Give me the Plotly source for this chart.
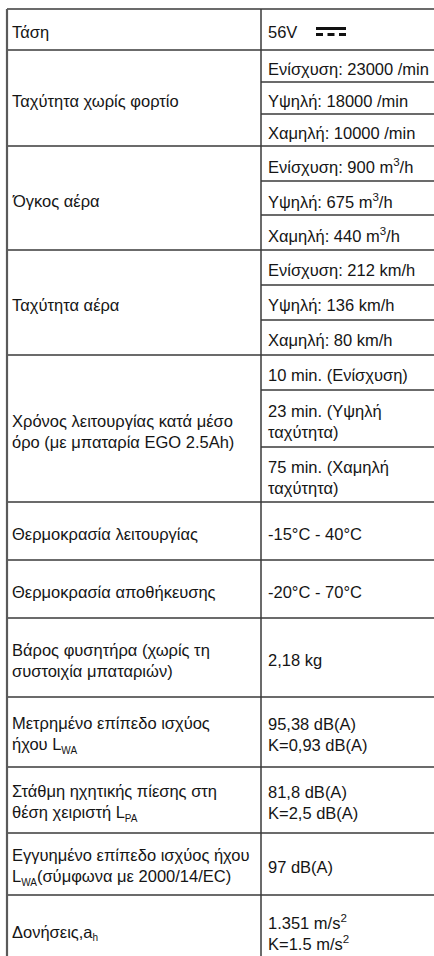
import plotly.graph_objects as go

# ---------------- data ----------------
SUB = "<sub><span style='font-size:10px'>{}</span></sub>"
parameters = [
    "Τάση",
    "Ταχύτητα χωρίς φορτίο",
    "Όγκος αέρα",
    "Ταχύτητα αέρα",
    "Χρόνος λειτουργίας κατά μέσο<br>όρο (με μπαταρία EGO 2.5Ah)",
    "Θερμοκρασία λειτουργίας",
    "Θερμοκρασία αποθήκευσης",
    "Βάρος φυσητήρα (χωρίς τη<br>συστοιχία μπαταριών)",
    "Μετρημένο επίπεδο ισχύος<br>ήχου L" + SUB.format("WA"),
    "Στάθμη ηχητικής πίεσης στη<br>θέση χειριστή L" + SUB.format("PA"),
    "Εγγυημένο επίπεδο ισχύος ήχου<br>L" + SUB.format("WA") + "(σύμφωνα με 2000/14/EC)",
    "Δονήσεις,a" + SUB.format("h"),
]
voltage = ["56V"]
no_load_speed = ["Ενίσχυση: 23000 /min", "Υψηλή: 18000 /min", "Χαμηλή: 10000 /min"]
air_volume = ["Ενίσχυση: 900 m<sup>3</sup>/h", "Υψηλή: 675 m<sup>3</sup>/h", "Χαμηλή: 440 m<sup>3</sup>/h"]
air_speed = ["Ενίσχυση: 212 km/h", "Υψηλή: 136 km/h", "Χαμηλή: 80 km/h"]
run_time = ["10 min. (Ενίσχυση)", "23 min. (Υψηλή<br>ταχύτητα)", "75 min. (Χαμηλή<br>ταχύτητα)"]
operating_temp = ["-15°C - 40°C"]
storage_temp = ["-20°C - 70°C"]
weight = ["2,18 kg"]
measured_power = ["95,38 dB(A)<br>K=0,93 dB(A)"]
sound_pressure = ["81,8 dB(A)<br>K=2,5 dB(A)"]
guaranteed_power = ["97 dB(A)"]
vibration = ["1.351 m/s<sup>2</sup><br>K=1.5 m/s<sup>2</sup>"]

values = [voltage, no_load_speed, air_volume, air_speed, run_time, operating_temp,
          storage_temp, weight, measured_power, sound_pressure, guaranteed_power, vibration]

# ---------------- layout (pixels) ----------------
W, H = 434, 956
table_top = 9
x_left, x_mid = 7, 261
pad_left, pad_right_col = 10, 266
sub_heights = [[41], [32, 32, 32], [35, 34, 35], [35, 35, 35], [35, 57, 55],
               [58], [58], [79], [70], [66], [62], [70]]
text_shift = 2.5
FONT = dict(family="Liberation Sans, Arial, sans-serif", size=16.5, color="#151515")
LINE = dict(color="#3a3a3a", width=1.5)

fig = go.Figure()
fig.add_trace(go.Scatter(x=[0, W], y=[0, H], mode="markers", marker=dict(opacity=0),
                         hoverinfo="skip", showlegend=False))

shapes, annotations = [], []
y = table_top
shapes.append(dict(type="line", x0=x_left, x1=W, y0=y, y1=y, line=LINE))
for label, vals, hs in zip(parameters, values, sub_heights):
    g_top = y
    for i, (v, h) in enumerate(zip(vals, hs)):
        annotations.append(dict(x=pad_right_col, y=y + h / 2 + text_shift, text=v,
                                xanchor="left", yanchor="middle", showarrow=False,
                                align="left", font=FONT))
        y += h
        if i < len(vals) - 1:
            shapes.append(dict(type="line", x0=x_mid, x1=W, y0=y, y1=y, line=LINE))
    g_bot = y
    if len(vals) == 3 and "<br>" not in "".join(vals):
        ly = g_top + hs[0] + hs[1] / 2 + text_shift
    else:
        ly = (g_top + g_bot) / 2 + text_shift
    annotations.append(dict(x=pad_left, y=ly, text=label, xanchor="left", yanchor="middle",
                            showarrow=False, align="left", font=FONT))
    shapes.append(dict(type="line", x0=x_left, x1=W, y0=y, y1=y, line=LINE))

# vertical borders
shapes.append(dict(type="line", x0=x_left, x1=x_left, y0=table_top, y1=H + 5,
                   line=dict(color="#5a5a5a", width=2.2)))
shapes.append(dict(type="line", x0=x_mid, x1=x_mid, y0=table_top, y1=H + 5, line=LINE))

# DC symbol next to 56V
dc_y = table_top + sub_heights[0][0] / 2 + text_shift
shapes.append(dict(type="rect", x0=316, x1=346, y0=dc_y - 5, y1=dc_y - 2,
                   fillcolor="#111111", line=dict(width=0)))
for dx in (0, 11.5, 23):
    shapes.append(dict(type="rect", x0=316 + dx, x1=323 + dx, y0=dc_y + 1, y1=dc_y + 4,
                       fillcolor="#111111", line=dict(width=0)))

fig.update_layout(
    width=W, height=H, margin=dict(l=0, r=0, t=0, b=0),
    paper_bgcolor="white", plot_bgcolor="white",
    xaxis=dict(range=[0, W], visible=False, fixedrange=True),
    yaxis=dict(range=[H, 0], visible=False, fixedrange=True),
    shapes=shapes, annotations=annotations, showlegend=False,
)
fig.write_html("out.html", config={"displayModeBar": False},
               post_script="document.body.style.margin='0';document.body.style.overflow='hidden';")
